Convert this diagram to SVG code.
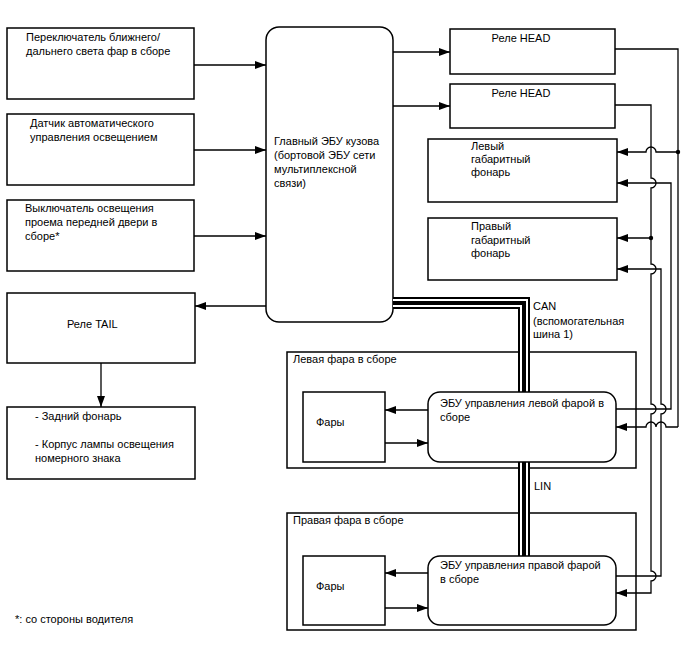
<svg xmlns="http://www.w3.org/2000/svg" width="688" height="658" viewBox="0 0 688 658">
<style>
text{font-family:"Liberation Sans",Arial,sans-serif;font-size:11px;fill:#000}
.b{fill:#fff;stroke:#000;stroke-width:1.5}
.w{fill:none;stroke:#000;stroke-width:1.3}
.a{fill:none;stroke:#000;stroke-width:1.3;marker-end:url(#ah)}
</style>
<defs>
<marker id="ah" markerUnits="userSpaceOnUse" markerWidth="11" markerHeight="8" refX="11" refY="4" orient="auto"><path d="M0,0 L11,4 L0,8 z" fill="#000"/></marker>
</defs>
<rect width="688" height="658" fill="#fff"/>

<g id="sw1"><rect class="b" x="7" y="28" width="187" height="71"/><text x="26" y="41">Переключатель ближнего/</text><text x="26" y="55">дальнего света фар в сборе</text></g>
<g id="sens"><rect class="b" x="7" y="114" width="187" height="71"/><text x="30" y="127">Датчик автоматического</text><text x="30" y="141">управления освещением</text></g>
<g id="door"><rect class="b" x="7" y="200" width="187" height="71"/><text x="25" y="212">Выключатель освещения</text><text x="25" y="226">проема передней двери в</text><text x="25" y="240">сборе*</text></g>
<g id="mainecu"><rect class="b" x="266" y="27" width="127" height="295" rx="13"/><text x="274" y="145">Главный ЭБУ кузова</text><text x="274" y="159">(бортовой ЭБУ сети</text><text x="274" y="173">мультиплексной</text><text x="274" y="187">связи)</text></g>
<g id="tail"><rect class="b" x="7" y="293" width="188" height="70"/><text x="67" y="328">Реле TAIL</text></g>
<g id="rear"><rect class="b" x="7" y="407" width="188" height="72"/><text x="35" y="420">- Задний фонарь</text><text x="35" y="448">- Корпус лампы освещения</text><text x="35" y="462">номерного знака</text></g>
<g id="head1"><rect class="b" x="450" y="29" width="165" height="45"/><text x="521" y="42" text-anchor="middle">Реле HEAD</text></g>
<g id="head2"><rect class="b" x="450" y="84" width="165" height="44"/><text x="521" y="97" text-anchor="middle">Реле HEAD</text></g>
<g id="lmark"><rect class="b" x="428" y="139" width="189" height="63"/><text x="471" y="150">Левый</text><text x="471" y="163">габаритный</text><text x="471" y="176">фонарь</text></g>
<g id="rmark"><rect class="b" x="428" y="218" width="189" height="62"/><text x="471" y="230">Правый</text><text x="471" y="244">габаритный</text><text x="471" y="257">фонарь</text></g>
<g id="lhead"><rect class="b" x="287" y="352" width="349" height="116"/><text x="293" y="363">Левая фара в сборе</text></g>
<g id="rhead"><rect class="b" x="287" y="513" width="349" height="117"/><text x="293" y="524">Правая фара в сборе</text></g>

<g id="bus">
<path d="M393,303 H524 V392 M524,462 V556" fill="none" stroke="#000" stroke-width="12"/>
<path d="M393,303 H524 V392 M524,462 V556" fill="none" stroke="#fff" stroke-width="8"/>
<path d="M393,303 H524 V392 M524,462 V556" fill="none" stroke="#000" stroke-width="4"/>
<text x="533" y="310">CAN</text><text x="533" y="325">(вспомогательная</text><text x="533" y="338">шина 1)</text>
<text x="534" y="490">LIN</text>
</g>

<g id="lfary"><rect class="b" x="303" y="392" width="82" height="70"/><text x="316" y="426">Фары</text></g>
<g id="lecu"><rect class="b" x="428" y="392" width="188" height="70" rx="12"/><text x="440" y="407">ЭБУ управления левой фарой в</text><text x="440" y="421">сборе</text></g>
<g id="rfary"><rect class="b" x="303" y="556" width="82" height="69"/><text x="316" y="590">Фары</text></g>
<g id="recu"><rect class="b" x="428" y="556" width="188" height="69" rx="12"/><text x="440" y="569">ЭБУ управления правой фарой</text><text x="440" y="583">в сборе</text></g>

<g id="connectors">
<path class="a" d="M194,65 H266"/>
<path class="a" d="M194,150 H266"/>
<path class="a" d="M194,236 H266"/>
<path class="a" d="M266,306 H195"/>
<path class="a" d="M101,363 V407"/>
<path class="a" d="M393,52 H450"/>
<path class="a" d="M393,106 H450"/>
<path class="a" d="M428,410 H385"/>
<path class="a" d="M385,443 H428"/>
<path class="a" d="M428,573 H385"/>
<path class="a" d="M385,608 H428"/>
<path class="w" d="M615,49 H678 V427"/>
<path class="a" d="M678,427 H666 A5,5 0 0 0 656,427 A5,5 0 0 0 646,427 H616"/>
<path class="a" d="M678,152 H656 A5,5 0 0 0 646,152 H617"/>
<path class="a" d="M616,409 H671 V183 H617"/>
<path class="a" d="M616,576 H661 V414 A5,5 0 0 0 661,404 V269 H617"/>
<path class="a" d="M615,105 H651 V178 A5,5 0 0 1 651,188 V264 A5,5 0 0 1 651,274 V404 A5,5 0 0 1 651,414 V571 A5,5 0 0 1 651,581 V593 H616"/>
<path class="a" d="M651,238 H617"/>
<circle cx="678" cy="152" r="2.2"/>
<circle cx="651" cy="238" r="2.2"/>
</g>

<text x="15" y="623">*: со стороны водителя</text>
</svg>
